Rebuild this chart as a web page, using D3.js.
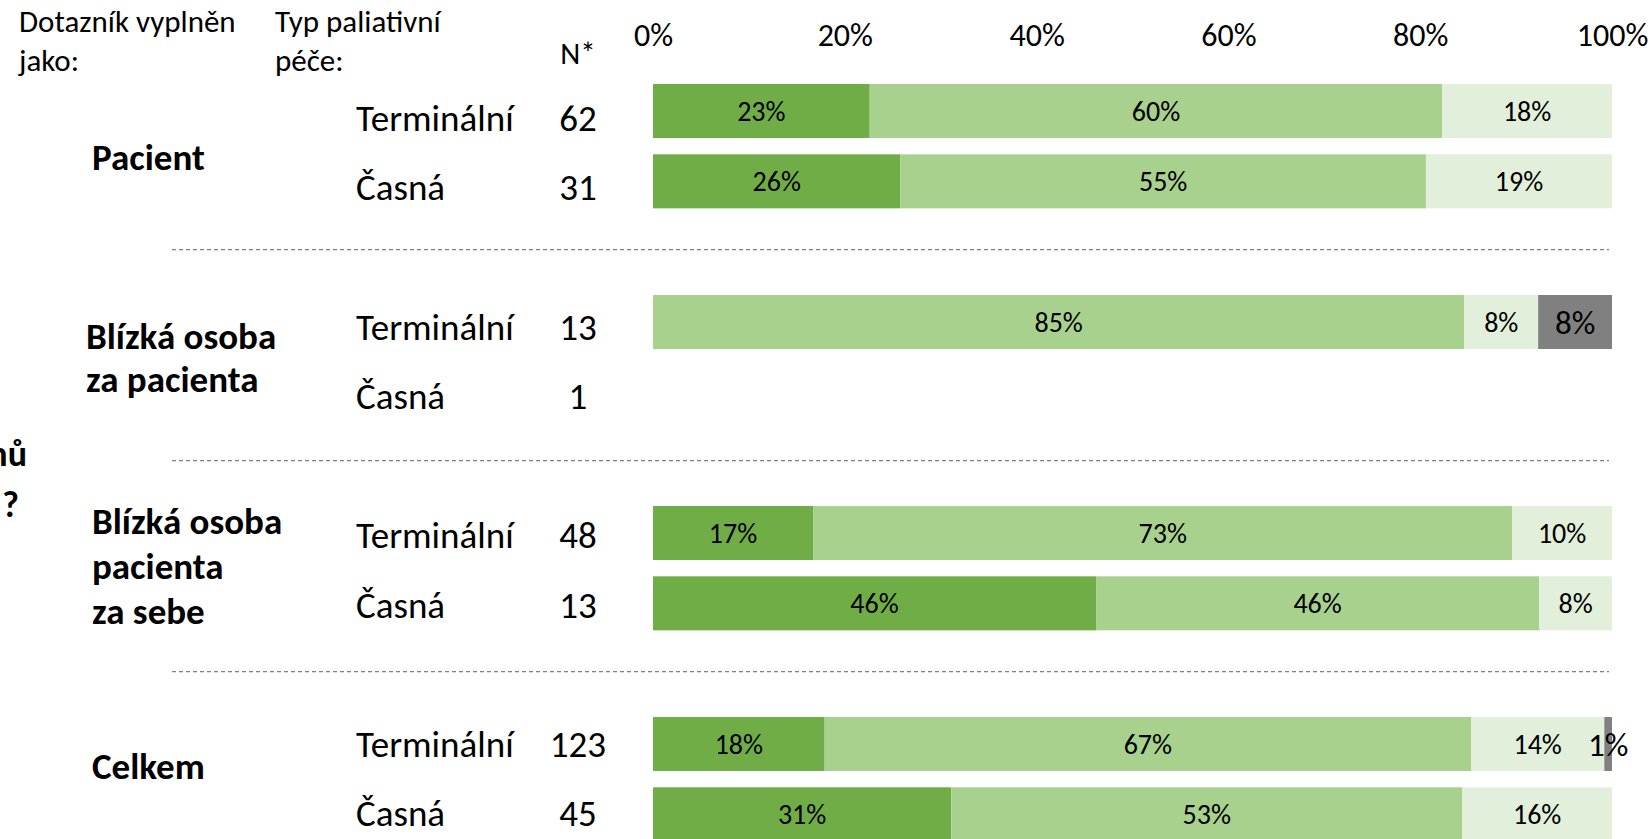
<!DOCTYPE html>
<html><head><meta charset="utf-8">
<script src="https://cdn.jsdelivr.net/npm/d3@7"></script>
<style>
html,body{margin:0;padding:0;background:#fff;overflow:hidden}
svg{display:block;font-family:Carlito,Lato,"Noto Sans",sans-serif}
</style></head><body>
<svg id="chart" width="1652" height="839"></svg>
<script>
// ---- data ----
const groups = ["Pacient", "Blízká osoba za pacienta", "Blízká osoba pacienta za sebe", "Celkem"];
const groupLabelLines = [["Pacient"], ["Blízká osoba", "za pacienta"], ["Blízká osoba", "pacienta", "za sebe"], ["Celkem"]];
const careTypes = ["Terminální", "Časná"];
const nValues = [[62, 31], [13, 1], [48, 13], [123, 45]];
// percentages per row [group][careType]; null = no bar
const pctDark   = [[22.6, 25.8], [0, null], [16.7, 46.2], [17.9, 31.1]];
const pctMid    = [[59.7, 54.8], [84.6, null], [72.9, 46.2], [67.4, 53.3]];
const pctLight  = [[17.7, 19.4], [7.7, null], [10.4, 7.6], [13.9, 15.6]];
const pctGray   = [[0, 0], [7.7, null], [0, 0], [0.8, 0]];
const tickValues = [0, 20, 40, 60, 80, 100];
const headers = {col1: ["Dotazník vyplněn", "jako:"], col2: ["Typ paliativní", "péče:"], n: "N*"};
const cutQuestion = ["nů", "?"];

// ---- layout / style ----
const colors = ["#70AD47", "#A9D18E", "#E2EFDA", "#808080"];
const svg = d3.select("#chart");
const x = d3.scaleLinear().domain([0, 100]).range([653, 1612]);
const slots = [];
groups.forEach((g, gi) => { careTypes.forEach((c, ci) => slots.push(gi + "-" + ci)); slots.push(gi + "-gap"); });
const step = 70.33, pin = 0.232;
const y = d3.scaleBand().domain(slots).range([84, 84 + step * (slots.length - pin)]).paddingInner(pin).paddingOuter(0);
const bw = y.bandwidth();
// text rows use a slightly tighter pitch than the bars
const yText = d3.scaleLinear().domain([0, 1]).range([118, 118 + 69.54]);

// axis (top)
const axis = d3.axisTop(x).tickValues(tickValues).tickFormat(d => d + "%").tickSize(0).tickPadding(0);
const ax = svg.append("g").attr("transform", "translate(0,46)").call(axis);
ax.select(".domain").remove();
ax.selectAll("text").attr("font-size", 32).attr("fill", "#000").attr("font-family", "Carlito,Lato,sans-serif");

// headers
const hdr = svg.append("g").attr("font-size", 31).attr("fill", "#000");
hdr.append("text").attr("x", 19).attr("y", 32).text(headers.col1[0]);
hdr.append("text").attr("x", 19).attr("y", 71).text(headers.col1[1]);
hdr.append("text").attr("x", 275).attr("y", 32).text(headers.col2[0]);
hdr.append("text").attr("x", 275).attr("y", 71).text(headers.col2[1]);
hdr.append("text").attr("x", 578).attr("y", 64).attr("text-anchor", "middle").text(headers.n);

// rows
const rows = [];
groups.forEach((g, gi) => careTypes.forEach((c, ci) => {
  const vals = [pctDark[gi][ci], pctMid[gi][ci], pctLight[gi][ci], pctGray[gi][ci]];
  rows.push({gi, ci, key: gi + "-" + ci, care: c, n: nValues[gi][ci], vals: vals[0] === null ? null : vals});
}));

const rowG = svg.append("g");
rows.forEach(r => {
  const yc = y(r.key) + bw / 2;
  const ty = yText(slots.indexOf(r.key));
  rowG.append("text").attr("x", 356).attr("y", ty).attr("dy", "0.35em").attr("font-size", 37).text(r.care);
  rowG.append("text").attr("x", 578).attr("y", ty).attr("dy", "0.35em").attr("font-size", 37).attr("text-anchor", "middle").text(r.n);
  if (!r.vals) return;
  let acc = 0;
  const segs = r.vals.map((v, i) => { const s = {x0: acc, x1: acc + v, v, i}; acc += v; return s; }).filter(s => s.v > 0);
  rowG.selectAll(null).data(segs).enter().append("rect")
    .attr("x", s => x(s.x0)).attr("y", y(r.key)).attr("width", s => x(s.x1) - x(s.x0)).attr("height", bw)
    .attr("fill", s => colors[s.i]);
  rowG.selectAll(null).data(segs).enter().append("text")
    .attr("x", s => (x(s.x0) + x(s.x1)) / 2).attr("y", yc).attr("dy", "0.35em")
    .attr("text-anchor", "middle").attr("font-size", s => s.i === 3 ? 33 : 28)
    .text(s => Math.round(s.v) + "%");
});

// separators
for (let gi = 0; gi < groups.length - 1; gi++) {
  const yy = (y(gi + "-1") + bw + y((gi + 1) + "-0")) / 2 - 2;
  svg.append("line").attr("x1", 172).attr("x2", 1609).attr("y1", yy).attr("y2", yy)
    .attr("stroke", "#7f7f7f").attr("stroke-width", 1.2).attr("stroke-dasharray", "4,3");
}

// group labels
const groupDy = [11, 0, -2, -13];
groups.forEach((g, gi) => {
  const cy = (y(gi + "-0") + y(gi + "-1") + bw) / 2 + groupDy[gi];
  const lines = groupLabelLines[gi];
  const lh = lines.length === 2 ? 43 : 45;
  const gx = gi === 1 ? 86 : 92;
  lines.forEach((l, li) => {
    svg.append("text").attr("x", gx).attr("y", cy + (li - (lines.length - 1) / 2) * lh).attr("dy", "0.35em")
      .attr("font-size", 37).attr("font-weight", "bold").text(l);
  });
});

// cut-off question at left edge
svg.append("text").attr("x", 27).attr("y", 453).attr("dy", "0.35em").attr("text-anchor", "end").attr("font-size", 36).attr("font-weight", "bold").text(cutQuestion[0]);
svg.append("text").attr("x", 19).attr("y", 504).attr("dy", "0.35em").attr("text-anchor", "end").attr("font-size", 36).attr("font-weight", "bold").text(cutQuestion[1]);
</script>
</body></html>
